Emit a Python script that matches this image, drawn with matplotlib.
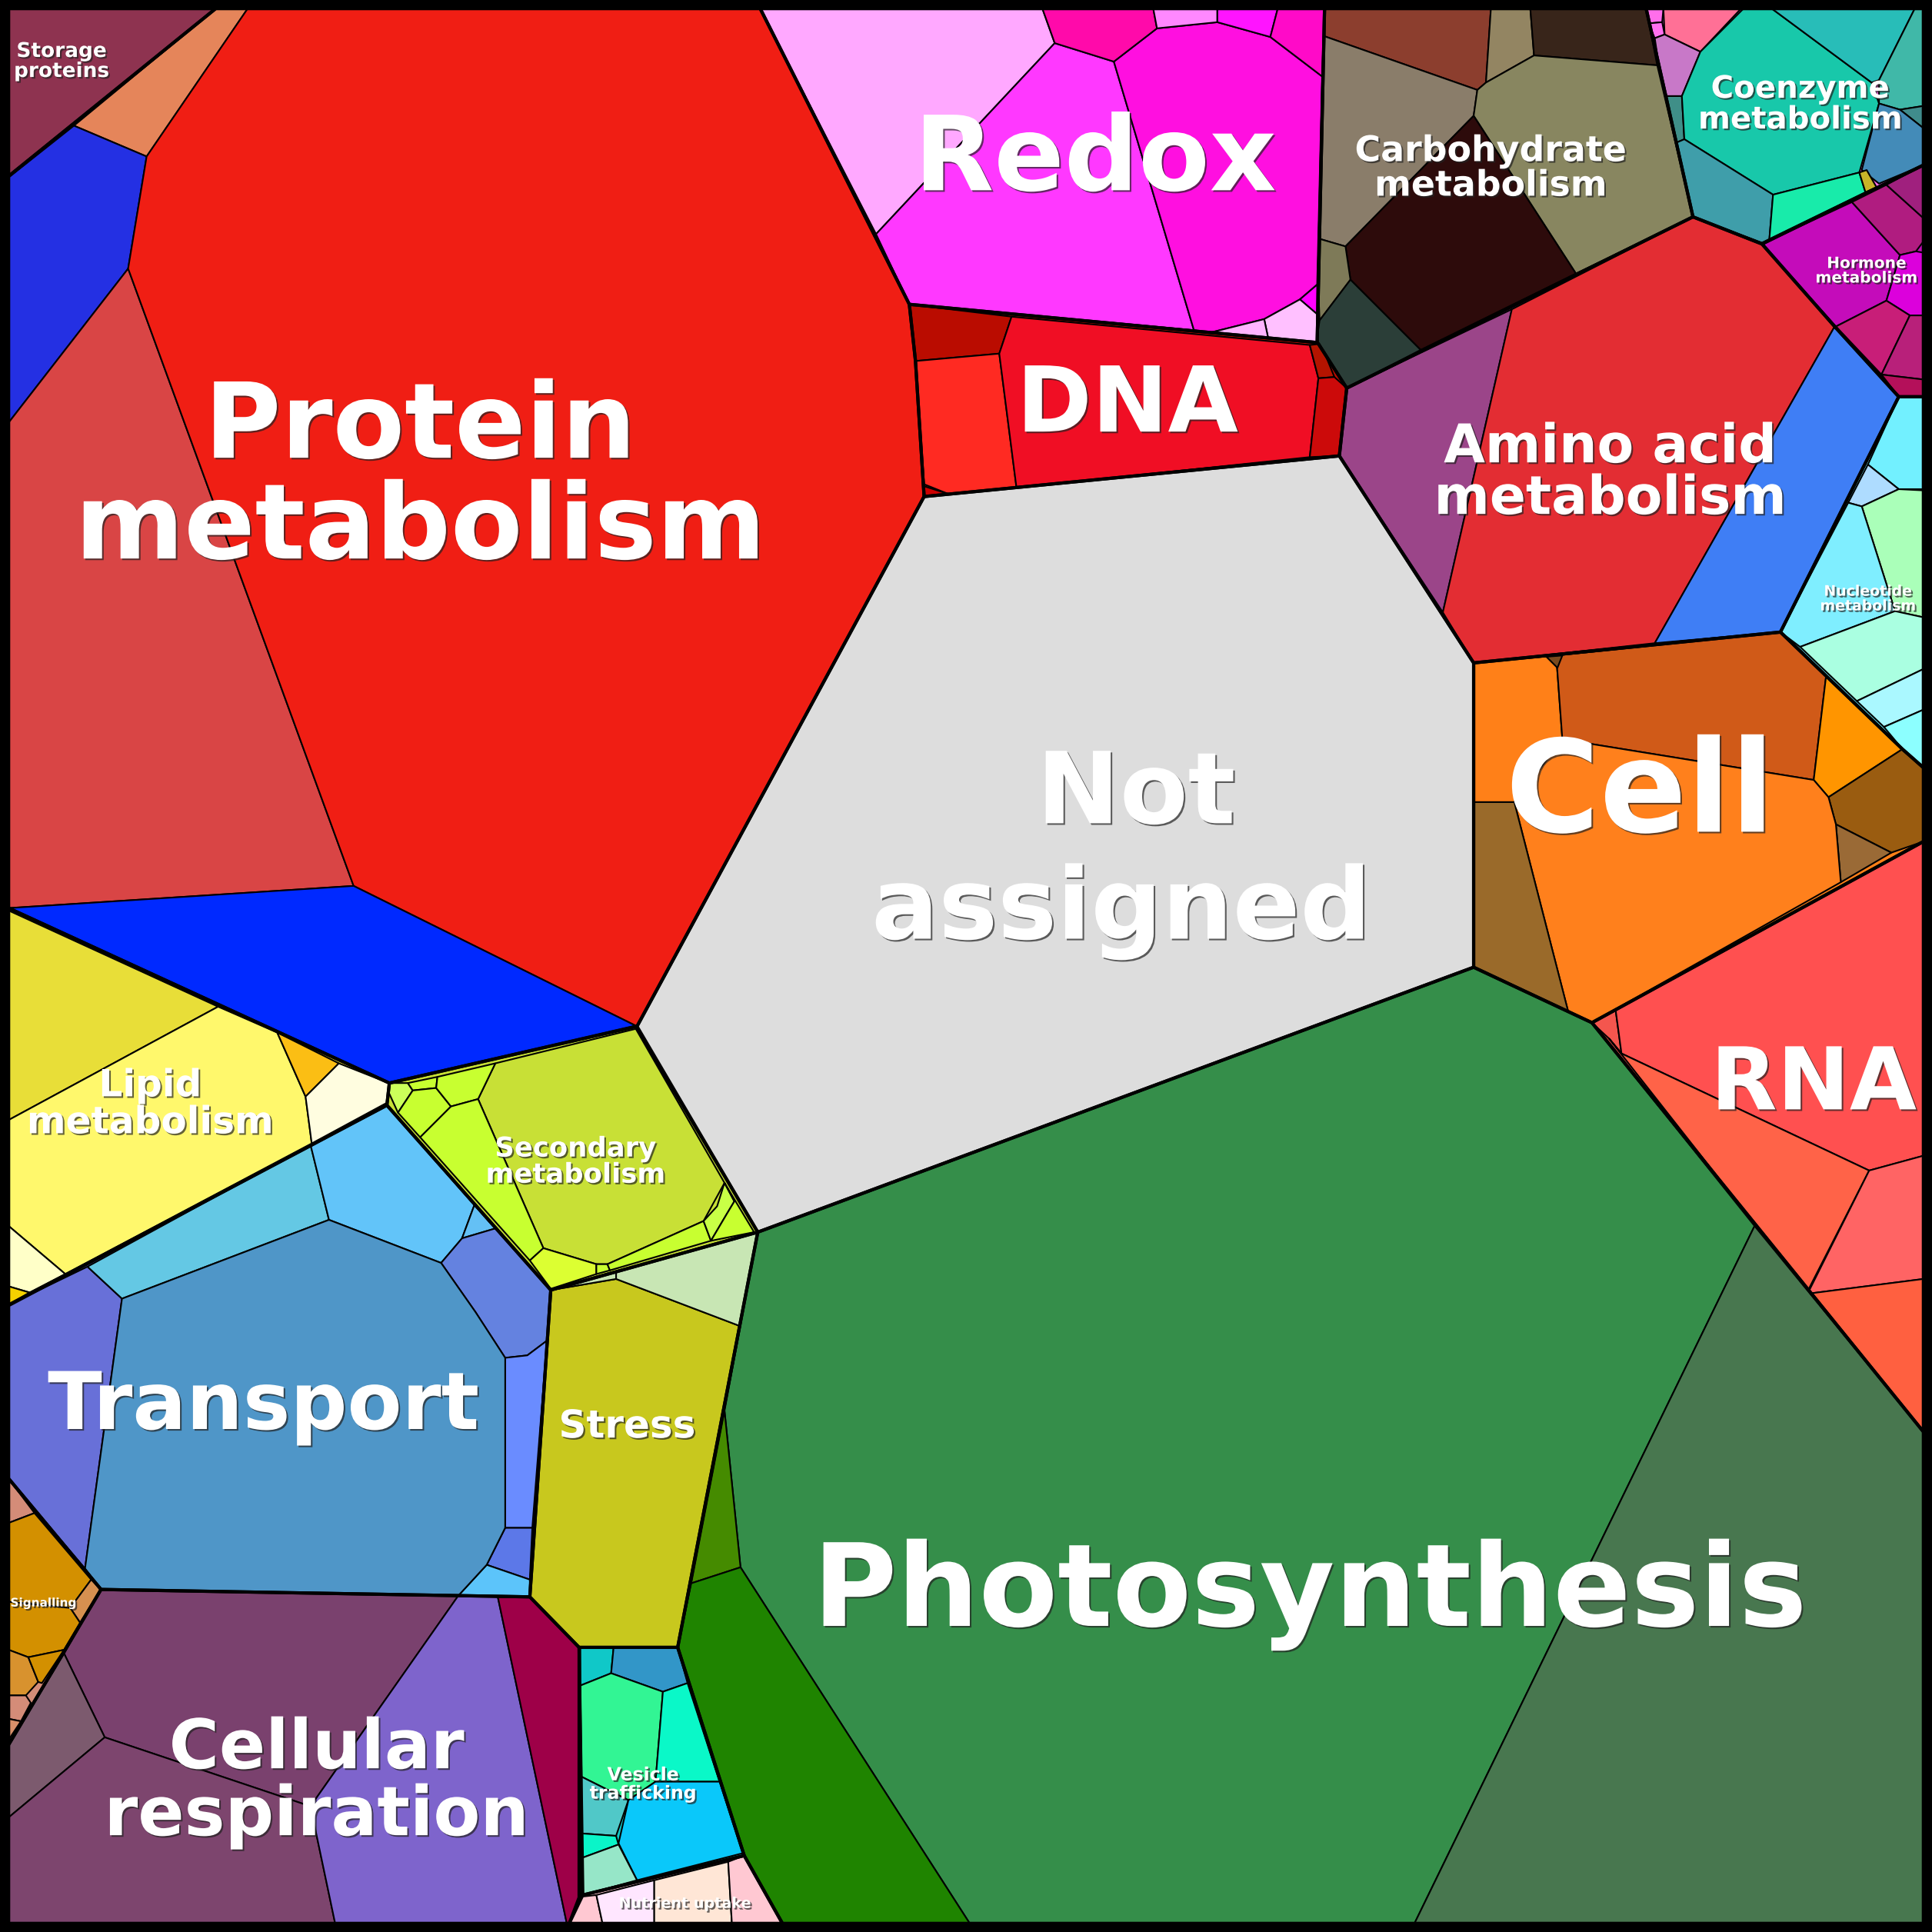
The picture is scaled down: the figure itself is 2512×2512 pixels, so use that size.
import matplotlib
matplotlib.use("Agg")
import matplotlib.pyplot as plt
from matplotlib.patches import Polygon, Rectangle
import matplotlib.patheffects as pe

# Voronoi treemap of functional categories; all outlines in picture units (0..1568)

storage_outline = [(7, 7), (175, 7), (7, 143)]
storage_cells = [("#8E3350", [(7, 7), (175, 7), (7, 143)])]

protein_outline = [(7, 143), (175, 7), (617, 7), (738, 247), (743, 293), (750, 403), (517, 833), (316, 879), (7, 737)]
protein_cells = [
    ("#E5855A", [(175, 7), (201, 7), (119, 127), (60, 102)]),
    ("#2430E3", [(7, 144), (60, 102), (119, 127), (104, 218), (7, 343)]),
    ("#D94545", [(7, 343), (104, 218), (287, 719), (7, 737)]),
    ("#F01E14", [(119, 127), (201, 7), (617, 7), (738, 247), (743, 293), (750, 403), (517, 833), (287, 719), (104, 218)]),
    ("#0029FF", [(7, 737), (287, 719), (517, 833), (316, 879)]),
]

redox_outline = [(617, 7), (1075, 7), (1069, 278), (738, 247)]
redox_cells = [
    ("#FFA8FF", [(617, 7), (846, 7), (856, 35), (711, 190)]),
    ("#FF38FF", [(711, 190), (856, 35), (904, 50), (969, 268), (738, 247)]),
    ("#FF0FE0", [(904, 50), (939, 23), (988, 18), (1031, 30), (1073, 62), (1069, 231), (1055, 243), (1026, 259), (982, 270), (969, 268)]),
    ("#FF0AAA", [(846, 7), (936, 7), (939, 23), (904, 50), (856, 35)]),
    ("#FF88FF", [(936, 7), (988, 7), (988, 18), (939, 23)]),
    ("#FF14FF", [(988, 7), (1037, 7), (1031, 30), (988, 18)]),
    ("#FF0AC8", [(1037, 7), (1075, 7), (1073, 62), (1031, 30)]),
    ("#FF00FF", [(1055, 243), (1069, 231), (1069, 255)]),
    ("#FFC0FF", [(1026, 259), (1055, 243), (1069, 255), (1069, 280), (1030, 278)]),
    ("#FFB4FF", [(982, 270), (1026, 259), (1030, 278)]),
]

dna_outline = [(738, 247), (1069, 278), (1070, 279), (1093, 315), (1087, 370), (750, 403), (743, 293)]
dna_cells = [
    ("#BA0C00", [(738, 247), (821, 257), (811, 287), (743, 293)]),
    ("#FF2A22", [(743, 293), (811, 287), (825, 396), (770, 401), (750, 393)]),
    ("#CC0000", [(745, 393), (770, 401), (745, 405)]),
    ("#F00E24", [(821, 257), (1063, 280), (1070, 307), (1063, 371), (825, 396), (811, 287)]),
    ("#B41400", [(1063, 280), (1072, 279), (1083, 306), (1070, 307)]),
    ("#CC0A0A", [(1070, 307), (1083, 306), (1093, 315), (1087, 370), (1063, 371)]),
]

carb_outline = [(1075, 7), (1336, 7), (1374, 176), (1093, 315), (1070, 279), (1069, 278)]
carb_cells = [
    ("#8C3E2E", [(1068, 7), (1210, 7), (1206, 67), (1199, 73), (1068, 27)]),
    ("#938562", [(1210, 7), (1242, 7), (1245, 45), (1206, 67)]),
    ("#38251A", [(1242, 7), (1336, 7), (1345, 53), (1245, 45)]),
    ("#8A7D6A", [(1068, 27), (1199, 73), (1196, 94), (1092, 200), (1068, 193)]),
    ("#888660", [(1199, 73), (1206, 67), (1245, 45), (1345, 53), (1374, 176), (1279, 222), (1196, 94)]),
    ("#2D0B0B", [(1196, 94), (1279, 222), (1153, 284), (1096, 227), (1092, 200)]),
    ("#7E7A58", [(1068, 193), (1092, 200), (1096, 227), (1071, 260)]),
    ("#2B3E38", [(1071, 260), (1096, 227), (1153, 284), (1093, 315), (1068, 279)]),
]

coenzyme_outline = [(1336, 7), (1561, 7), (1561, 134), (1430, 198), (1374, 176)]
coenzyme_cells = [
    ("#FF6EEB", [(1336, 7), (1350, 7), (1349, 18), (1338, 19)]),
    ("#FF70F0", [(1338, 19), (1349, 18), (1351, 28), (1343, 31)]),
    ("#FF7096", [(1350, 7), (1413, 7), (1380, 42), (1351, 28)]),
    ("#C878C8", [(1343, 31), (1351, 28), (1380, 42), (1365, 78), (1350, 78)]),
    ("#3F8F88", [(1350, 78), (1365, 78), (1367, 113), (1360, 116)]),
    ("#18C8AA", [(1380, 42), (1415, 7), (1438, 7), (1519, 67), (1525, 84), (1509, 140), (1439, 158), (1367, 113), (1365, 78)]),
    ("#28BDB8", [(1438, 7), (1554, 7), (1525, 65), (1519, 67)]),
    ("#40B8A8", [(1554, 7), (1561, 7), (1561, 86), (1542, 89), (1525, 84), (1525, 65)]),
    ("#408C8C", [(1542, 89), (1561, 86), (1561, 104)]),
    ("#438BB8", [(1525, 84), (1542, 89), (1561, 104), (1561, 134), (1525, 149), (1511, 138)]),
    ("#3F9EAA", [(1367, 113), (1439, 158), (1436, 194), (1430, 197), (1374, 176), (1360, 116)]),
    ("#18EBAA", [(1439, 158), (1509, 140), (1514, 156), (1436, 194)]),
    ("#C8B428", [(1509, 140), (1515, 138), (1523, 152), (1514, 156)]),
]

hormone_outline = [(1430, 198), (1561, 134), (1561, 322), (1541, 322), (1489, 265)]
hormone_cells = [
    ("#C40CBA", [(1430, 198), (1503, 164), (1542, 207), (1531, 244), (1490, 265)]),
    ("#B01C80", [(1503, 164), (1531, 150), (1561, 177), (1561, 196), (1555, 204), (1542, 207)]),
    ("#A0207E", [(1531, 150), (1561, 134), (1561, 177)]),
    ("#DC00DC", [(1542, 207), (1555, 204), (1561, 205), (1561, 256), (1550, 256), (1531, 244)]),
    ("#C81E78", [(1490, 265), (1531, 244), (1550, 256), (1527, 304)]),
    ("#B8207A", [(1550, 256), (1561, 256), (1561, 308), (1527, 304)]),
    ("#B4105A", [(1527, 304), (1561, 308), (1561, 322), (1541, 322)]),
]

amino_outline = [(1093, 315), (1374, 176), (1430, 198), (1489, 265), (1541, 322), (1445, 513), (1196, 538), (1087, 370)]
amino_cells = [
    ("#9B4589", [(1093, 315), (1227, 251), (1171, 497), (1087, 370)]),
    ("#E32D33", [(1227, 251), (1374, 176), (1430, 198), (1489, 265), (1343, 522), (1196, 538), (1171, 497)]),
    ("#3F7EF5", [(1489, 265), (1541, 322), (1445, 513), (1343, 522)]),
]

nucleotide_outline = [(1541, 322), (1561, 322), (1561, 623), (1544, 608), (1445, 513)]
nucleotide_cells = [
    ("#72F0FF", [(1541, 322), (1561, 322), (1561, 397), (1541, 397), (1516, 377)]),
    ("#AEDCFF", [(1516, 377), (1541, 397), (1511, 411), (1500, 408)]),
    ("#AAFFB9", [(1541, 397), (1561, 398), (1561, 501), (1538, 496), (1511, 411)]),
    ("#7FEEFF", [(1500, 408), (1511, 411), (1538, 496), (1461, 525), (1445, 513)]),
    ("#AAFFE1", [(1461, 525), (1538, 496), (1561, 501), (1561, 543), (1507, 569)]),
    ("#AAF8FF", [(1507, 569), (1561, 543), (1561, 576), (1529, 590)]),
    ("#8CFFFF", [(1529, 590), (1561, 576), (1561, 623), (1544, 608)]),
]

na_outline = [(750, 403), (1087, 370), (1196, 538), (1196, 785), (615, 1000), (517, 833)]
na_cells = [("#DDDDDD", na_outline)]

cell_outline = [(1196, 538), (1445, 513), (1544, 608), (1561, 623), (1561, 683), (1292, 830), (1196, 785)]
cell_cells = [
    ("#FF8018", [(1196, 538), (1263, 532), (1268, 600), (1229, 651), (1196, 651)]),
    ("#D05A18", [(1263, 532), (1445, 513), (1482, 549), (1472, 633), (1268, 600)]),
    ("#7A4A1E", [(1255, 533), (1268, 532), (1264, 542)]),
    ("#FF9500", [(1482, 549), (1544, 608), (1484, 647), (1472, 633)]),
    ("#9A5C10", [(1484, 647), (1544, 608), (1561, 623), (1561, 683), (1535, 692), (1490, 669)]),
    ("#9A6A36", [(1490, 669), (1535, 692), (1494, 716)]),
    ("#FF801C", [(1229, 651), (1268, 600), (1472, 633), (1484, 647), (1490, 669), (1494, 716), (1292, 830), (1273, 822)]),
    ("#9A6A2A", [(1196, 651), (1229, 651), (1273, 822), (1196, 785)]),
]

rna_outline = [(1292, 830), (1561, 683), (1561, 1162)]
rna_cells = [
    ("#F4564E", [(1292, 830), (1311, 818), (1316, 855), (1306, 843)]),
    ("#FF5050", [(1311, 818), (1561, 683), (1561, 938), (1517, 950), (1316, 855)]),
    ("#FF6348", [(1306, 843), (1316, 855), (1517, 950), (1467, 1048)]),
    ("#FF6464", [(1517, 950), (1561, 938), (1561, 1038), (1467, 1050)]),
    ("#FF6040", [(1467, 1050), (1561, 1038), (1561, 1162)]),
]

photo_outline = [(615, 1000), (1196, 785), (1292, 830), (1561, 1162), (1561, 1561), (635, 1561), (604, 1506), (550, 1337)]
photo_cells = [
    ("#358E4A", [(615, 1000), (1196, 785), (1292, 830), (1424, 995), (1148, 1561), (787, 1561), (601, 1272), (588, 1145)]),
    ("#48774F", [(1424, 995), (1561, 1162), (1561, 1561), (1148, 1561)]),
    ("#458B00", [(588, 1145), (601, 1272), (561, 1285)]),
    ("#1F8400", [(561, 1285), (601, 1272), (787, 1561), (635, 1561), (604, 1506), (550, 1337)]),
]

stress_outline = [(447, 1047), (615, 1000), (550, 1337), (470, 1337), (430, 1296)]
stress_cells = [
    ("#C8C81E", [(447, 1047), (500, 1038), (600, 1076), (550, 1337), (470, 1337), (430, 1296)]),
    ("#C8E6B4", [(500, 1032), (615, 1000), (600, 1076), (500, 1038)]),
    ("#C8E6B4", [(447, 1047), (500, 1032), (500, 1038)]),
]

secondary_outline = [(316, 879), (516, 833), (615, 1000), (447, 1047), (314, 897)]
secondary_cells = [
    ("#C8E036", [(402, 863), (516, 835), (588, 960), (571, 991), (493, 1026), (484, 1026), (441, 1013), (388, 892)]),
    ("#CCFF5A", [(312, 879), (331, 879), (335, 885), (323, 903)]),
    ("#C8FF30", [(331, 879), (355, 874), (354, 883), (335, 885)]),
    ("#C8FF30", [(335, 885), (354, 883), (366, 898), (341, 923), (323, 903)]),
    ("#C8FF30", [(355, 874), (402, 863), (388, 892), (366, 898), (354, 883)]),
    ("#C8FF30", [(388, 892), (441, 1013), (430, 1023), (341, 923), (366, 898)]),
    ("#DCFF32", [(430, 1023), (441, 1013), (484, 1026), (484, 1034), (447, 1046)]),
    ("#C8FF30", [(484, 1026), (493, 1026), (495, 1031), (484, 1034)]),
    ("#C8FF30", [(493, 1026), (571, 991), (577, 1007), (495, 1031)]),
    ("#C8FF46", [(571, 991), (582, 979), (588, 960), (596, 975), (590, 985), (577, 1007)]),
    ("#C8FF30", [(588, 960), (612, 1000), (577, 1007), (590, 985), (596, 975)]),
]

lipid_outline = [(7, 737), (316, 879), (314, 897), (8, 1059), (7, 1059)]
lipid_cells = [
    ("#E8DE38", [(7, 739), (177, 817), (7, 909)]),
    ("#FFF86C", [(7, 909), (177, 817), (225, 838), (248, 890), (253, 928), (53, 1034), (7, 995)]),
    ("#FBBE14", [(225, 838), (275, 863), (248, 890)]),
    ("#FFFDE0", [(248, 890), (275, 863), (318, 880), (314, 895), (253, 928)]),
    ("#FFFFC8", [(7, 995), (53, 1034), (24, 1049), (7, 1044)]),
    ("#F5D200", [(7, 1044), (24, 1049), (7, 1059)]),
]

transport_outline = [(314, 897), (447, 1047), (430, 1296), (82, 1290), (7, 1200), (7, 1059)]
transport_cells = [
    ("#6870D8", [(7, 1059), (71, 1028), (99, 1054), (69, 1273), (7, 1200)]),
    ("#64C8E4", [(71, 1028), (252, 929), (267, 990), (99, 1054)]),
    ("#62C4F9", [(252, 929), (314, 897), (385, 978), (375, 1005), (358, 1025), (267, 990)]),
    ("#64C0F5", [(385, 978), (402, 997), (375, 1005)]),
    ("#6482E0", [(358, 1025), (375, 1005), (402, 997), (447, 1047), (444, 1088), (428, 1100), (410, 1102), (386, 1065)]),
    ("#6A8CFF", [(410, 1102), (428, 1100), (444, 1088), (432, 1240), (410, 1240)]),
    ("#5C78E8", [(410, 1240), (432, 1240), (430, 1282), (395, 1270)]),
    ("#5CC4FA", [(395, 1270), (430, 1282), (430, 1296), (372, 1295)]),
    ("#4F96C8", [(99, 1054), (267, 990), (358, 1025), (386, 1065), (410, 1102), (410, 1240), (395, 1270), (372, 1295), (82, 1290), (69, 1273)]),
]

signalling_outline = [(7, 1200), (82, 1290), (7, 1416)]
signalling_cells = [
    ("#D48C78", [(7, 1200), (28, 1228), (7, 1236)]),
    ("#D39000", [(7, 1236), (28, 1228), (74, 1282), (57, 1305), (7, 1300)]),
    ("#D69050", [(74, 1282), (82, 1290), (65, 1317), (57, 1305)]),
    ("#D39000", [(7, 1300), (57, 1305), (65, 1317), (52, 1339), (23, 1345), (7, 1339)]),
    ("#D8922E", [(7, 1339), (23, 1345), (31, 1365), (21, 1376), (7, 1376)]),
    ("#D39000", [(23, 1345), (52, 1339), (34, 1366), (31, 1365)]),
    ("#D48C78", [(7, 1376), (21, 1376), (25, 1382), (17, 1397), (7, 1395)]),
    ("#D8906A", [(7, 1395), (17, 1397), (7, 1412)]),
]

respiration_outline = [(82, 1290), (430, 1296), (470, 1337), (470, 1540), (462, 1561), (7, 1561), (7, 1416)]
respiration_cells = [
    ("#7A416E", [(82, 1290), (372, 1295), (252, 1466), (85, 1410), (52, 1342)]),
    ("#7C5A6E", [(52, 1342), (85, 1410), (7, 1475), (7, 1416)]),
    ("#7D456E", [(7, 1475), (85, 1410), (252, 1466), (272, 1561), (7, 1561)]),
    ("#7E64CC", [(372, 1295), (404, 1296), (460, 1561), (272, 1561), (252, 1466)]),
    ("#9E0048", [(404, 1296), (430, 1296), (470, 1337), (470, 1540), (462, 1561), (460, 1561)]),
]

vesicle_outline = [(470, 1337), (550, 1337), (604, 1506), (473, 1538)]
vesicle_cells = [
    ("#10C8C8", [(471, 1337), (498, 1337), (496, 1358), (471, 1368)]),
    ("#3296C8", [(498, 1337), (550, 1337), (558, 1366), (538, 1373), (496, 1358)]),
    ("#32F594", [(471, 1368), (496, 1358), (538, 1373), (532, 1446), (510, 1461), (472, 1442)]),
    ("#0AF8C8", [(538, 1373), (558, 1366), (584, 1446), (532, 1446)]),
    ("#50C8C8", [(472, 1442), (510, 1461), (500, 1490), (472, 1488)]),
    ("#0AC8FA", [(532, 1446), (584, 1446), (603, 1504), (517, 1526), (502, 1496), (510, 1461)]),
    ("#0AF5C8", [(472, 1488), (500, 1490), (502, 1497), (472, 1508)]),
    ("#96E6C8", [(472, 1508), (502, 1497), (517, 1526), (473, 1538)]),
]

nutrient_outline = [(473, 1538), (604, 1506), (635, 1561), (462, 1561)]
nutrient_cells = [
    ("#FFC8D2", [(466, 1540), (484, 1538), (489, 1561), (462, 1561)]),
    ("#FFE6FF", [(484, 1538), (531, 1526), (531, 1561), (489, 1561)]),
    ("#FFE6D6", [(531, 1526), (591, 1511), (594, 1561), (531, 1561)]),
    ("#FFC8D2", [(591, 1511), (604, 1506), (635, 1561), (594, 1561)]),
]

outlines = [storage_outline, protein_outline, redox_outline, dna_outline, carb_outline,
            coenzyme_outline, hormone_outline, amino_outline, nucleotide_outline,
            na_outline, cell_outline, rna_outline, photo_outline, stress_outline, secondary_outline,
            lipid_outline, transport_outline, signalling_outline, respiration_outline, vesicle_outline,
            nutrient_outline]
cells = [storage_cells, protein_cells, redox_cells, dna_cells, carb_cells,
         coenzyme_cells, hormone_cells, amino_cells, nucleotide_cells,
         na_cells, cell_cells, rna_cells, photo_cells, stress_cells, secondary_cells,
         lipid_cells, transport_cells, signalling_cells, respiration_cells, vesicle_cells,
         nutrient_cells]

# labels ("Not assigned" is set as two texts, the first line sits a bit to the right)
labels = ["Storage\nproteins", "Protein\nmetabolism", "Redox", "DNA", "Carbohydrate\nmetabolism",
          "Coenzyme\nmetabolism", "Hormone\nmetabolism", "Amino acid\nmetabolism", "Nucleotide\nmetabolism",
          "Not", "assigned", "Cell", "RNA", "Photosynthesis", "Stress", "Secondary\nmetabolism",
          "Lipid\nmetabolism", "Transport", "Signalling", "Cellular\nrespiration", "Vesicle\ntrafficking",
          "Nutrient uptake"]
label_xy = [(50, 50), (341, 389), (889, 131), (915, 330), (1210, 137),
            (1461, 85), (1515, 220), (1307, 384), (1516, 486),
            (922, 646), (910, 740), (1331, 646), (1472, 881), (1063, 1294), (509, 1158), (467, 943),
            (122, 896), (214, 1142), (35, 1301), (257, 1447), (522, 1448),
            (556, 1545)]
label_size = [19, 98, 97, 85, 33,
              29, 14.5, 50, 13.6,
              93, 93, 120, 81, 107.5, 36, 25.5,
              35, 74.5, 11, 64, 17,
              13.8]

fig = plt.figure(figsize=(25.12, 25.12), dpi=100, facecolor="black")
ax = fig.add_axes([0, 0, 1, 1])
ax.set_xlim(0, 1568)
ax.set_ylim(1568, 0)
ax.axis("off")

for outline, group_cells in zip(outlines, cells):
    base = Polygon(outline, closed=True, facecolor=group_cells[0][0], edgecolor="none")
    ax.add_patch(base)
    for color, pts in group_cells:
        p = Polygon(pts, closed=True, facecolor=color, edgecolor="black", linewidth=1.5, joinstyle="round")
        ax.add_patch(p)
        p.set_clip_path(base)

for outline in outlines:
    ax.add_patch(Polygon(outline, closed=True, fill=False, edgecolor="black", linewidth=3.0, joinstyle="round"))

# black frame round the picture
for r in [(0, 0, 1568, 7.5), (0, 1560.5, 1568, 7.5), (0, 0, 7.5, 1568), (1560.5, 0, 7.5, 1568)]:
    ax.add_patch(Rectangle(r[:2], r[2], r[3], facecolor="black", edgecolor="none"))

shadow = [pe.withSimplePatchShadow(offset=(1.5, -1.5), shadow_rgbFace="#222222", alpha=0.7)]
for text, (x, y), size in zip(labels, label_xy, label_size):
    ax.text(x, y, text, ha="center", va="center", color="white", fontsize=size,
            fontweight="bold", family="DejaVu Sans", linespacing=1.0, path_effects=shadow)

fig.savefig("out.png", dpi=100, facecolor="black")
